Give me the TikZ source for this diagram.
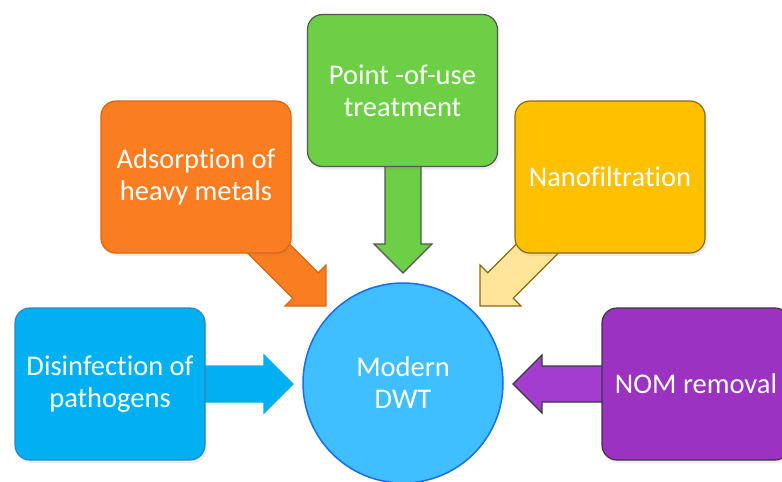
\documentclass[tikz,border=0pt]{standalone}
\usepackage{fontspec}
\setmainfont{Carlito}[Ligatures=NoCommon]
\usetikzlibrary{calc,shadows}
\definecolor{bluefill}{HTML}{00B0F0}
\definecolor{blueline}{HTML}{2C86C6}
\definecolor{circfill}{HTML}{3FBFFF}
\definecolor{circline}{HTML}{1A6CF0}
\definecolor{orfill}{HTML}{FA7D22}
\definecolor{orline}{HTML}{D9680F}
\definecolor{grfill}{HTML}{6CCF45}
\definecolor{grline}{HTML}{555555}
\definecolor{yefill}{HTML}{FFC000}
\definecolor{yeline}{HTML}{8B6B0A}
\definecolor{yearrow}{HTML}{FFE59A}
\definecolor{pufill}{HTML}{9B32C2}
\definecolor{puarrow}{HTML}{A23DD0}
\definecolor{puline}{HTML}{3A3A3A}
\newcommand\blockarrow[3]{%
  \path (#2) coordinate (ba-s) (#3) coordinate (ba-t);
  \path ($(ba-t)!29pt!(ba-s)$) coordinate (ba-h);
  \draw[#1] ($(ba-s)!18pt!90:(ba-t)$) -- ($(ba-h)!18pt!-90:(ba-s)$)
    -- ($(ba-h)!29pt!-90:(ba-s)$) -- (ba-t) -- ($(ba-h)!29pt!90:(ba-s)$)
    -- ($(ba-h)!18pt!90:(ba-s)$) -- ($(ba-s)!18pt!-90:(ba-t)$) -- cycle;
}
\tikzset{
  box/.style={rectangle, rounded corners=15pt, minimum width=190pt, minimum height=152pt,
    inner sep=0pt, align=center, text=white, font=\fontsize{28.5}{32}\selectfont,
    line width=1.2pt, drop shadow={shadow xshift=2pt, shadow yshift=-3pt, opacity=0.15}},
  blockarr/.style={line width=1.2pt, line join=miter},
}
\begin{document}
\begin{tikzpicture}[x=1pt,y=-1pt]
\useasboundingbox (0,0) rectangle (782,482);
% arrow end points
\coordinate (sBlue) at (150,384);   \coordinate (tBlue) at (293,384);
\coordinate (sOr) at (230,210);     \coordinate (tOr) at (326,306);
\coordinate (sGr) at (403,120);     \coordinate (tGr) at (403,273);
\coordinate (sYe) at (576,210);     \coordinate (tYe) at (480,306);
\coordinate (sPu) at (700,384);     \coordinate (tPu) at (513,384);
% arrows
\blockarrow{blockarr, fill=bluefill, draw=bluefill}{sBlue}{tBlue}
\blockarrow{blockarr, fill=orfill, draw=orline}{sOr}{tOr}
\blockarrow{blockarr, fill=grfill, draw=grline}{sGr}{tGr}
\blockarrow{blockarr, fill=yearrow, draw=yeline}{sYe}{tYe}
\blockarrow{blockarr, fill=puarrow, draw=puline}{sPu}{tPu}
% boxes
\node[box, fill=bluefill, draw=blueline] (dis) at (110,384) {Disinfection of\\pathogens};
\node[box, fill=orfill, draw=orline] (ads) at (196,177) {Adsorption of\\heavy metals};
\node[box, fill=grfill, draw=grline] (pou) at (402.5,90.5) {Point -of-use\\treatment};
\node[box, fill=yefill, draw=yeline] (nano) at (610,177) {Nanofiltration};
\node[box, fill=pufill, draw=puline, minimum width=188pt] (nom) at (696,384) {NOM removal};
% centre
\node[circle, minimum size=200pt, inner sep=0pt, fill=circfill, draw=circline, line width=1.5pt,
  align=center, text=white, font=\fontsize{28.5}{32}\selectfont] (dwt) at (403,383) {Modern\\DWT};
\end{tikzpicture}
\end{document}
